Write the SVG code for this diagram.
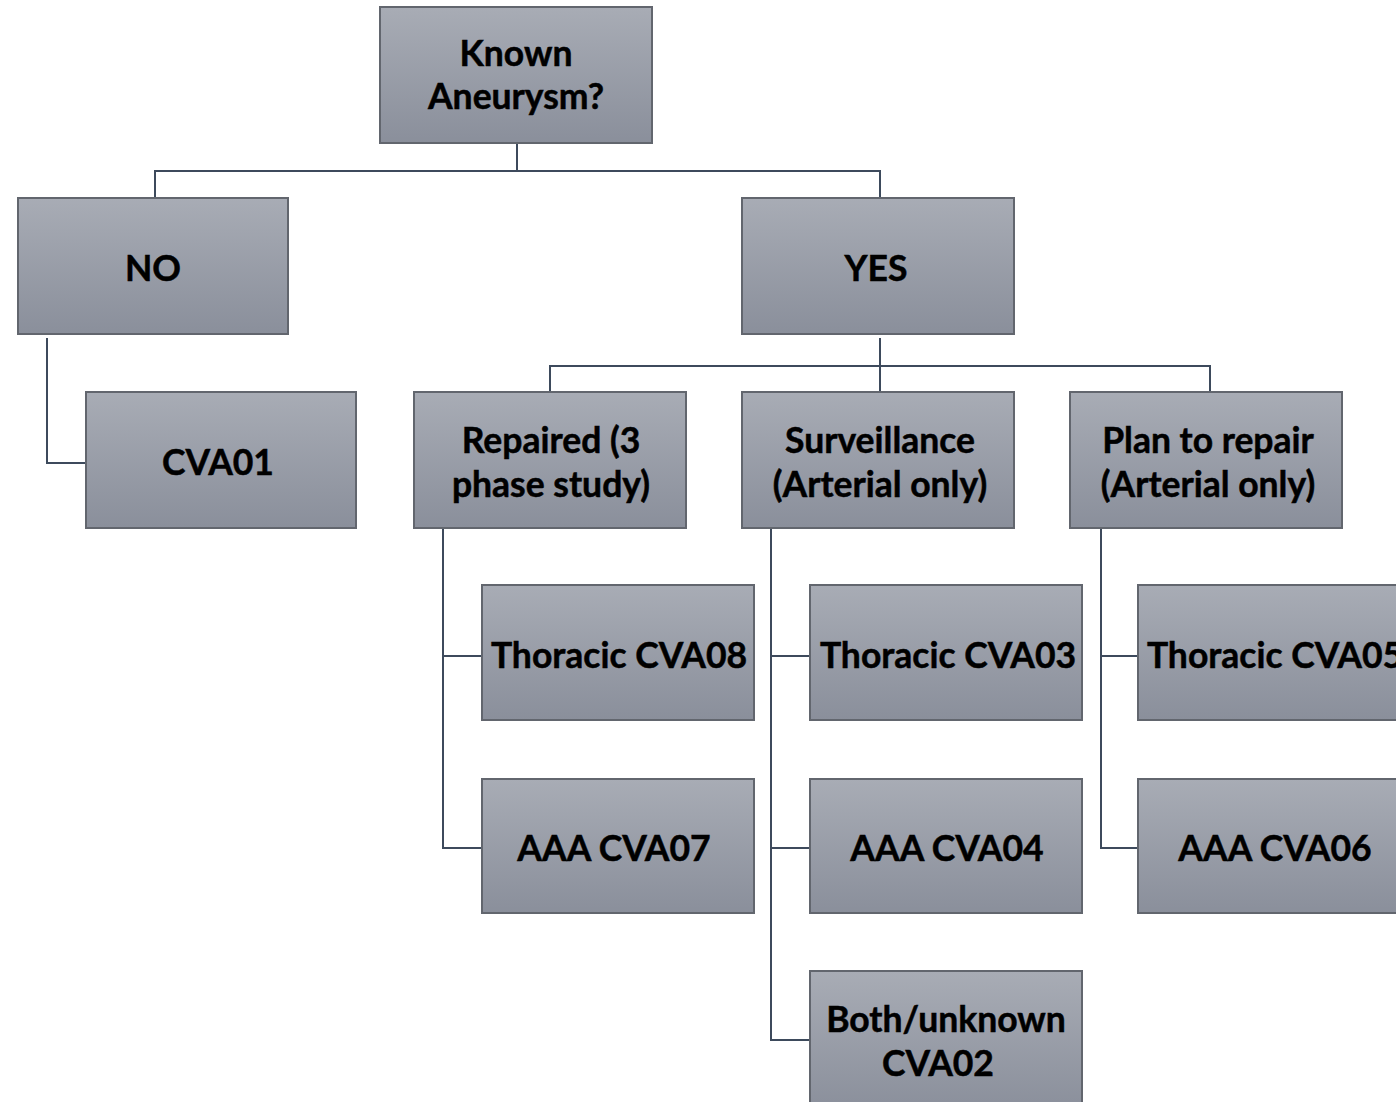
<svg xmlns="http://www.w3.org/2000/svg" width="1396" height="1102" viewBox="0 0 1396 1102">
<defs>
<linearGradient id="g" x1="0" y1="0" x2="0" y2="1">
<stop offset="0" stop-color="#a8acb5"/>
<stop offset="1" stop-color="#8a8f9b"/>
</linearGradient>
</defs>
<style>
.box{fill:url(#g);stroke:#62666e;stroke-width:2}
.t{font-family:Lato,"Open Sans",sans-serif;font-weight:bold;font-size:35.5px;fill:#000;text-anchor:middle;stroke:#000;stroke-width:0.5}
.c{fill:none;stroke:#3d4a5c;stroke-width:2}
</style>
<rect width="1396" height="1102" fill="#fff"/>
<g id="connectors">
<path class="c" d="M517 143V171M155 198V171H880V198"/>
<path class="c" d="M47 338V463H86"/>
<path class="c" d="M880 338V366M550 392V366H1210V392M880 366V392"/>
<path class="c" d="M443 528V848H482M443 656H482"/>
<path class="c" d="M771 528V1040H810M771 656H810M771 848H810"/>
<path class="c" d="M1101 528V848H1138M1101 656H1138"/>
</g>
<g id="n-known"><rect class="box" x="380" y="7" width="272" height="136"/><text class="t" x="516" y="66">Known</text><text class="t" x="516" y="109">Aneurysm?</text></g>
<g id="n-no"><rect class="box" x="18" y="198" width="270" height="136"/><text class="t" x="153" y="281">NO</text></g>
<g id="n-yes"><rect class="box" x="742" y="198" width="272" height="136"/><text class="t" x="876" y="281">YES</text></g>
<g id="n-cva01"><rect class="box" x="86" y="392" width="270" height="136"/><text class="t" x="218" y="475">CVA01</text></g>
<g id="n-repaired"><rect class="box" x="414" y="392" width="272" height="136"/><text class="t" x="551" y="453">Repaired (3</text><text class="t" x="551" y="497">phase study)</text></g>
<g id="n-surv"><rect class="box" x="742" y="392" width="272" height="136"/><text class="t" x="880" y="453">Surveillance</text><text class="t" x="880" y="497">(Arterial only)</text></g>
<g id="n-plan"><rect class="box" x="1070" y="392" width="272" height="136"/><text class="t" x="1208" y="453">Plan to repair</text><text class="t" x="1208" y="497">(Arterial only)</text></g>
<g id="n-cva08"><rect class="box" x="482" y="585" width="272" height="135"/><text class="t" x="619" y="668">Thoracic CVA08</text></g>
<g id="n-cva07"><rect class="box" x="482" y="779" width="272" height="134"/><text class="t" x="614" y="861">AAA CVA07</text></g>
<g id="n-cva03"><rect class="box" x="810" y="585" width="272" height="135"/><text class="t" x="948" y="668">Thoracic CVA03</text></g>
<g id="n-cva04"><rect class="box" x="810" y="779" width="272" height="134"/><text class="t" x="947" y="861">AAA CVA04</text></g>
<g id="n-cva02"><rect class="box" x="810" y="971" width="272" height="140"/><text class="t" x="946" y="1032">Both/unknown</text><text class="t" x="938" y="1076">CVA02</text></g>
<g id="n-cva05"><rect class="box" x="1138" y="585" width="272" height="135"/><text class="t" x="1275" y="668">Thoracic CVA05</text></g>
<g id="n-cva06"><rect class="box" x="1138" y="779" width="272" height="134"/><text class="t" x="1275" y="861">AAA CVA06</text></g>
</svg>
